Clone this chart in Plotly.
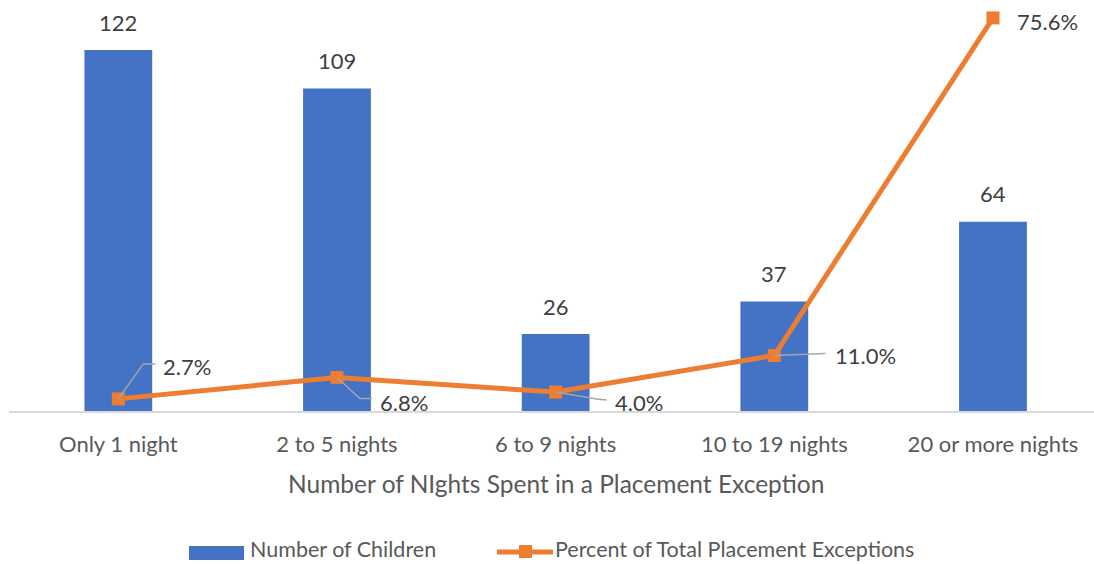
import plotly.graph_objects as go

categories = ["Only 1 night", "2 to 5 nights", "6 to 9 nights", "10 to 19 nights", "20 or more nights"]
children = [122, 109, 26, 37, 64]
percent = [2.7, 6.8, 4.0, 11.0, 75.6]

BLUE = "#4472C4"
ORANGE = "#ED7D31"
TEXT = "#404040"
SUB = "#595959"
FONT = "Lato"

W, H = 1094, 564
ML, MB, MT = 9, 153, 0          # plot area spans px y 0 .. 411
PLOT_W = W - ML
PLOT_H = H - MB - MT


def px_x(p):
    return (p - ML) / PLOT_W


def px_y(p):
    return (H - MB - p) / PLOT_H


# percentage label offsets (pixels) and leader-line paths
pct_label_shift = [(45, 32), (43, -25), (59, -10), (61, 0), (24, -4)]
leader_paths = ["M0,0 L25,35 L37,35", "M0,0 L23,-21 L35,-21", "M0,0 L41,-7 L51,-8",
                "M0,0 L51,2", None]

fig = go.Figure()
fig.add_trace(go.Bar(
    x=categories, y=children, name="Number of Children",
    marker=dict(color=BLUE, line=dict(width=0)), width=0.31,
))
fig.add_trace(go.Scatter(
    x=categories, y=percent, name="Percent of Total Placement Exceptions",
    mode="lines+markers", yaxis="y2",
    line=dict(color=ORANGE, width=5),
    marker=dict(symbol="square", size=13, color=ORANGE),
))

for c, v in zip(categories, children):
    fig.add_annotation(x=c, y=v, text=str(v), showarrow=False, yshift=28,
                       font=dict(family=FONT, size=22, color=TEXT))

for i, (c, p) in enumerate(zip(categories, percent)):
    dx, dy = pct_label_shift[i]
    fig.add_annotation(x=c, y=p, yref="y2", text=f"{p:.1f}%", showarrow=False,
                       xanchor="left", xshift=dx - 2, yshift=dy,
                       font=dict(family=FONT, size=22, color=TEXT))
    if leader_paths[i]:
        fig.add_shape(type="path", xref="x", yref="y2",
                      xsizemode="pixel", ysizemode="pixel",
                      xanchor=i, yanchor=p, path=leader_paths[i],
                      line=dict(color="#A6A6A6", width=1.5), layer="above")

# axis title
fig.add_annotation(xref="paper", yref="paper", x=px_x(556), y=px_y(483),
                   text="Number of NIghts Spent in a Placement Exception",
                   showarrow=False, xanchor="center", yanchor="middle",
                   font=dict(family=FONT, size=24.5, color=SUB))

# legend row
fig.add_shape(type="rect", xref="paper", yref="paper",
              x0=px_x(189), x1=px_x(244), y0=px_y(560), y1=px_y(546),
              fillcolor=BLUE, line=dict(width=0))
fig.add_annotation(xref="paper", yref="paper", x=px_x(248), y=px_y(549),
                   text="Number of Children", showarrow=False,
                   xanchor="left", yanchor="middle",
                   font=dict(family=FONT, size=21.5, color=SUB))
fig.add_shape(type="line", xref="paper", yref="paper",
              x0=px_x(497), x1=px_x(553), y0=px_y(552), y1=px_y(552),
              line=dict(color=ORANGE, width=5))
fig.add_shape(type="rect", xref="paper", yref="paper",
              x0=px_x(519), x1=px_x(532), y0=px_y(558), y1=px_y(545),
              fillcolor=ORANGE, line=dict(width=0))
fig.add_annotation(xref="paper", yref="paper", x=px_x(553), y=px_y(549),
                   text="Percent of Total Placement Exceptions", showarrow=False,
                   xanchor="left", yanchor="middle",
                   font=dict(family=FONT, size=21.5, color=SUB))

fig.update_layout(
    width=W, height=H,
    margin=dict(l=ML, r=0, t=MT, b=MB, autoexpand=False),
    plot_bgcolor="white", paper_bgcolor="white",
    font=dict(family=FONT, color=TEXT),
    showlegend=False,
    xaxis=dict(
        type="category", range=[-0.5, 4.462],
        showline=True, linecolor="#D9D9D9", linewidth=2,
        showgrid=False, ticks="", ticklabelstandoff=13,
        tickfont=dict(family=FONT, size=22, color=SUB),
    ),
    yaxis=dict(range=[0, 138.9], visible=False, showgrid=False),
    yaxis2=dict(range=[0.38, 79.03], overlaying="y", visible=False, showgrid=False),
)

fig.write_html("out.html")
